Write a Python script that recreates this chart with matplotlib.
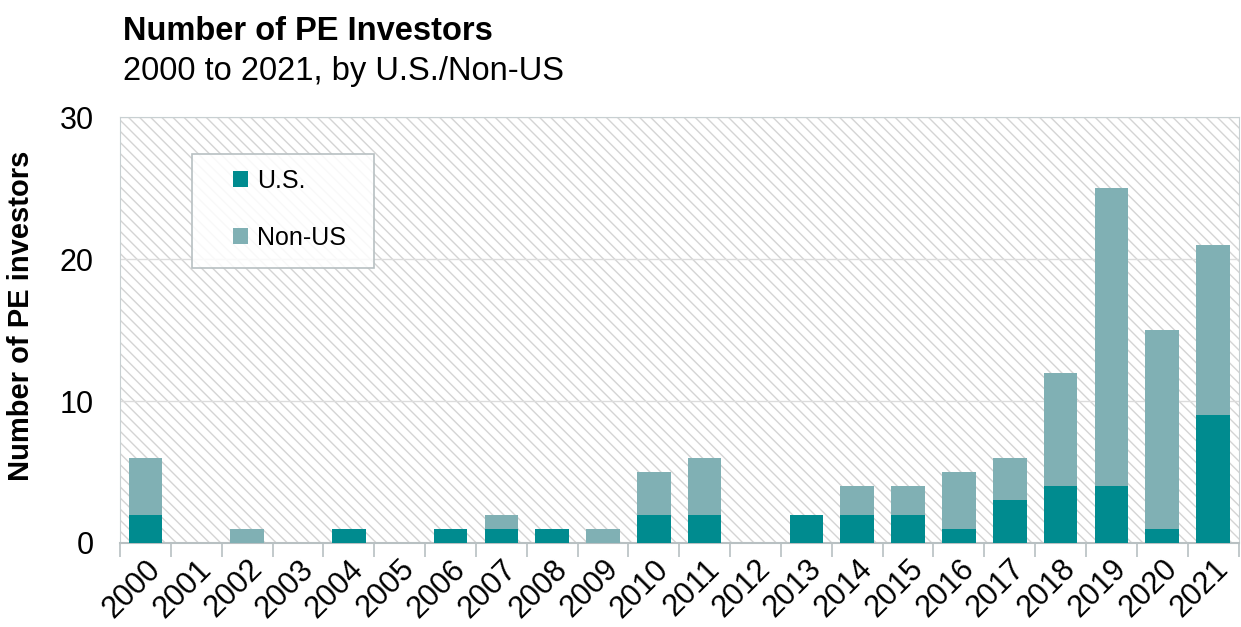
import matplotlib
matplotlib.use("Agg")
import matplotlib.pyplot as plt
import numpy as np

years = [str(y) for y in range(2000, 2022)]
us =     [2, 0, 0, 0, 1, 0, 1, 1, 1, 0, 2, 2, 0, 2, 2, 2, 1, 3, 4, 4, 1, 9]
non_us = [4, 0, 1, 0, 0, 0, 0, 1, 0, 1, 3, 4, 0, 0, 2, 2, 4, 3, 8, 21, 14, 12]
yticks = [0, 10, 20, 30]

plt.rcParams['font.family'] = ['Liberation Sans', 'DejaVu Sans']
plt.rcParams['hatch.color'] = '#d4d4d4'
plt.rcParams['hatch.linewidth'] = 1.0

fig = plt.figure(figsize=(12.41, 6.27), dpi=100)
ax = fig.add_axes([0.0967, 0.134, 0.9013, 0.679])

x = np.arange(len(years))
ax.set_xlim(-0.5, len(years) - 0.5)
ax.set_ylim(0, 30)

# hatched background
ax.add_patch(plt.Rectangle((0, 0), 1, 1, transform=ax.transAxes, facecolor='white',
                           edgecolor='#d4d4d4', hatch='\\\\\\', lw=0, zorder=0))

ax.grid(axis='y', color='#dcdcdc', lw=1, zorder=1)
ax.set_axisbelow(True)

c_us = '#008b8f'
c_non = '#80b0b4'
w = 0.66
ax.bar(x, us, width=w, color=c_us, label='U.S.', zorder=3)
ax.bar(x, non_us, width=w, bottom=us, color=c_non, label='Non-US', zorder=3)

ax.set_yticks(yticks)
ax.tick_params(axis='y', length=0, labelsize=22, pad=19)

ax.set_xticks(np.arange(len(years) + 1) - 0.5, minor=False)
ax.set_xticklabels([])
ax.set_xticks(x, minor=True)
ax.set_xticklabels(years, minor=True, rotation=45, ha='right', rotation_mode='anchor', fontsize=22)
ax.tick_params(axis='x', which='major', length=10, color='#b8c0c2', width=1.2)
ax.tick_params(axis='x', which='minor', length=0, pad=8)

for s in ['left', 'top', 'right']:
    ax.spines[s].set_color('#c8d0d2')
ax.spines['bottom'].set_color('#b8c0c2')
ax.spines['bottom'].set_linewidth(1.5)

ax.set_ylabel('Number of PE investors', fontsize=21, fontweight='bold')
ax.yaxis.set_label_coords(-0.076, 0.533)

# legend box
ax.add_patch(plt.Rectangle((0.0644, 0.646), 0.1627, 0.2677, transform=ax.transAxes,
                           facecolor='white', alpha=0.85, edgecolor='none', zorder=4))
ax.add_patch(plt.Rectangle((0.0644, 0.646), 0.1627, 0.2677, transform=ax.transAxes,
                           facecolor='none', edgecolor='#b8c0c2', lw=1.2, zorder=5))
leg = ax.legend(loc='upper left', bbox_to_anchor=(0.101, 0.878), fontsize=18,
                frameon=False, handlelength=0.6, handleheight=0.6,
                labelspacing=1.3, borderpad=0, handletextpad=0.35, borderaxespad=0)
leg.set_zorder(6)

fig.text(0.099, 0.936, 'Number of PE Investors', fontsize=23.5, fontweight='bold', va='baseline')
fig.text(0.099, 0.873, '2000 to 2021, by U.S./Non-US', fontsize=23.5, va='baseline')

fig.savefig('out.png', dpi=100)
